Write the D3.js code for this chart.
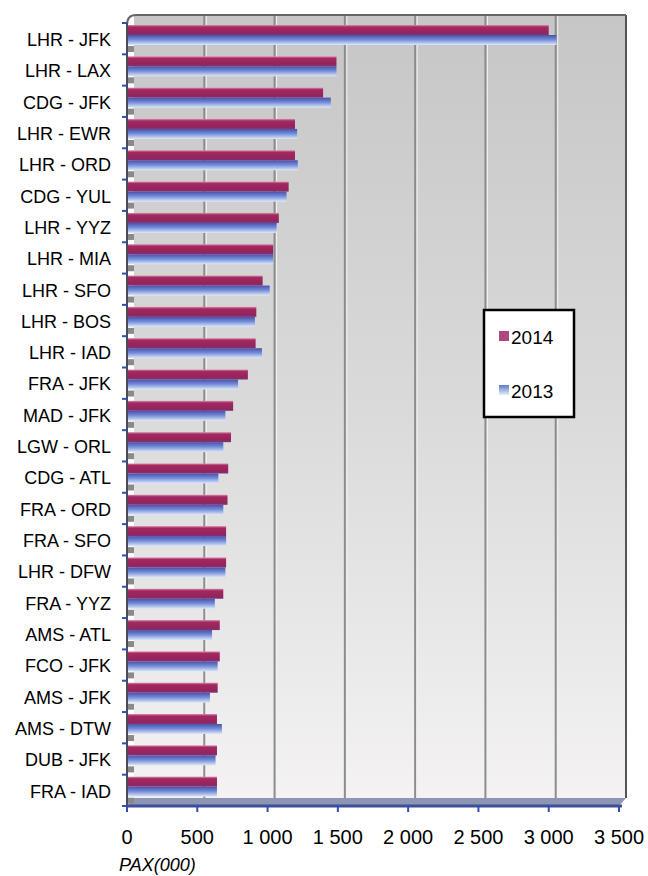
<!DOCTYPE html>
<html>
<head>
<meta charset="utf-8">
<script src="https://cdn.jsdelivr.net/npm/d3@7"></script>
<style>
body { margin:0; background:#fff; }
text { font-family: "Liberation Sans", Arial, sans-serif; }
</style>
</head>
<body>
<div id="chart"></div>
<script>
var routes = ["LHR - JFK","LHR - LAX","CDG - JFK","LHR - EWR","LHR - ORD","CDG - YUL","LHR - YYZ","LHR - MIA","LHR - SFO","LHR - BOS","LHR - IAD","FRA - JFK","MAD - JFK","LGW - ORL","CDG - ATL","FRA - ORD","FRA - SFO","LHR - DFW","FRA - YYZ","AMS - ATL","FCO - JFK","AMS - JFK","AMS - DTW","DUB - JFK","FRA - IAD"];
var pax2014 = [3000,1490,1395,1195,1195,1150,1080,1040,965,920,915,860,755,740,720,715,705,705,685,660,660,645,640,640,640];
var pax2013 = [3055,1490,1450,1210,1215,1135,1065,1040,1015,910,960,790,700,685,650,685,705,700,625,605,645,590,675,630,640];
var xTicks = [0,500,1000,1500,2000,2500,3000,3500];
var seriesNames = ["2014","2013"];

var W = 648, H = 876;
var dx = 7, dy = -8; // depth of the 3D wall

var svg = d3.select("#chart").append("svg")
    .attr("width", W)
    .attr("height", H);

var x = d3.scaleLinear().domain([0,3500]).range([127,619]);
var y = d3.scaleBand().domain(routes).range([23,806]);

var fr = d3.formatLocale({decimal:",", thousands:" ", grouping:[3], currency:["",""]});
var fmt = fr.format(",d");

var defs = svg.append("defs");
var wall = defs.append("linearGradient").attr("id","wall").attr("x1",0).attr("y1",0).attr("x2",0).attr("y2",1);
wall.append("stop").attr("offset","0%").attr("stop-color","#c6c6c6");
wall.append("stop").attr("offset","50%").attr("stop-color","#dadada");
wall.append("stop").attr("offset","100%").attr("stop-color","#f4f2f2");

var g14 = defs.append("linearGradient").attr("id","g14").attr("x1",0).attr("y1",0).attr("x2",0).attr("y2",1);
g14.append("stop").attr("offset","0%").attr("stop-color","#d98aae");
g14.append("stop").attr("offset","20%").attr("stop-color","#a3295f");
g14.append("stop").attr("offset","75%").attr("stop-color","#94245c");
g14.append("stop").attr("offset","100%").attr("stop-color","#7a3478");

var g13 = defs.append("linearGradient").attr("id","g13").attr("x1",0).attr("y1",0).attr("x2",0).attr("y2",1);
g13.append("stop").attr("offset","0%").attr("stop-color","#4d4fa6");
g13.append("stop").attr("offset","45%").attr("stop-color","#6f8bd8");
g13.append("stop").attr("offset","100%").attr("stop-color","#dfe7f8");

var gl13 = defs.append("linearGradient").attr("id","gl13").attr("x1",0).attr("y1",0).attr("x2",0).attr("y2",1);
gl13.append("stop").attr("offset","0%").attr("stop-color","#5a7acb");
gl13.append("stop").attr("offset","100%").attr("stop-color","#e8eefa");

// back wall
svg.append("rect")
    .attr("x", x(0)+dx).attr("y", y.range()[0]+dy)
    .attr("width", x(3500)-x(0)).attr("height", y.range()[1]-y.range()[0])
    .attr("fill","url(#wall)");

// grid lines on the back wall
svg.selectAll(".grid").data(xTicks.slice(1)).enter().append("line")
    .attr("class","grid")
    .attr("x1", function(d){return x(d)+dx;})
    .attr("x2", function(d){return x(d)+dx;})
    .attr("y1", y.range()[0]+dy)
    .attr("y2", y.range()[1]+dy)
    .attr("stroke", function(d){return d==3500 ? "#555" : "#8c8c8c";})
    .attr("stroke-width", 2);
svg.selectAll(".gridhl").data(xTicks.slice(1,-1)).enter().append("line")
    .attr("class","gridhl")
    .attr("x1", function(d){return x(d)+dx+2;})
    .attr("x2", function(d){return x(d)+dx+2;})
    .attr("y1", y.range()[0]+dy)
    .attr("y2", y.range()[1]+dy)
    .attr("stroke", "#f2f2f2")
    .attr("stroke-width", 1);

// top edge of the wall with rounded corner
svg.append("path")
    .attr("d", "M" + x(0) + "," + (y.range()[0]+2) + " Q" + x(0) + "," + (y.range()[0]+dy) + " " + (x(0)+dx+2) + "," + (y.range()[0]+dy)
        + " L" + (x(3500)+dx) + "," + (y.range()[0]+dy))
    .attr("fill","none").attr("stroke","#666").attr("stroke-width",2);

// floor
svg.append("path")
    .attr("d", "M" + x(0) + "," + y.range()[1] + " L" + (x(0)+dx) + "," + (y.range()[1]+dy)
        + " L" + (x(3500)+dx) + "," + (y.range()[1]+dy) + " L" + x(3500) + "," + y.range()[1] + "Z")
    .attr("fill","#8d94b4");
svg.append("line")
    .attr("x1", x(0)).attr("x2", x(3500)+3)
    .attr("y1", y.range()[1]).attr("y2", y.range()[1])
    .attr("stroke","#3e4f9a").attr("stroke-width",3);

// shadows at the bar bases
svg.selectAll(".base").data(routes).enter().append("rect")
    .attr("class","base")
    .attr("x", x(0)+1).attr("width", 6)
    .attr("y", function(d){return y(d)+23;})
    .attr("height", 6)
    .attr("fill","#8a8a8a");

// bars
var bh = 10;
svg.selectAll(".b13").data(routes).enter().append("rect")
    .attr("class","b13")
    .attr("x", x(0))
    .attr("y", function(d){return y(d)+12;})
    .attr("width", function(d,i){return x(pax2013[i])-x(0);})
    .attr("height", bh)
    .attr("fill","url(#g13)");
svg.selectAll(".b14").data(routes).enter().append("rect")
    .attr("class","b14")
    .attr("x", x(0))
    .attr("y", function(d){return y(d)+2;})
    .attr("width", function(d,i){return x(pax2014[i])-x(0);})
    .attr("height", bh)
    .attr("fill","url(#g14)");

// left axis
svg.append("line")
    .attr("x1", x(0)).attr("x2", x(0))
    .attr("y1", y.range()[0]).attr("y2", y.range()[1])
    .attr("stroke","#4a4a5a").attr("stroke-width",2);
var yTickPos = routes.map(function(d){return y(d);}).concat([y.range()[1]]);
svg.selectAll(".ytick").data(yTickPos).enter().append("line")
    .attr("class","ytick")
    .attr("x1", x(0)-5).attr("x2", x(0))
    .attr("y1", function(d){return d;}).attr("y2", function(d){return d;})
    .attr("stroke","#2f4fb5").attr("stroke-width",2);

svg.selectAll(".ylab").data(routes).enter().append("text")
    .attr("class","ylab")
    .attr("x", 111)
    .attr("y", function(d){return y(d)+y.bandwidth()/2+1;})
    .attr("dy","0.35em")
    .style("text-anchor","end")
    .style("font-size","18px")
    .attr("fill","#000")
    .text(function(d){return d;});

// bottom axis ticks and labels
svg.selectAll(".xtick").data(xTicks).enter().append("line")
    .attr("class","xtick")
    .attr("x1", function(d){return x(d);}).attr("x2", function(d){return x(d);})
    .attr("y1", y.range()[1]).attr("y2", y.range()[1]+6)
    .attr("stroke","#2f4fb5").attr("stroke-width",2);
svg.selectAll(".xlab").data(xTicks).enter().append("text")
    .attr("class","xlab")
    .attr("x", function(d){return x(d);})
    .attr("y", 844)
    .style("text-anchor","middle")
    .style("font-size","20px")
    .attr("fill","#000")
    .text(function(d){return fmt(d);});

svg.append("text")
    .attr("x", 119).attr("y", 871)
    .style("font-size","18px")
    .style("font-style","italic")
    .attr("fill","#000")
    .text("PAX(000)");

// legend
var lg = svg.append("g");
lg.append("rect")
    .attr("x",484).attr("y",310).attr("width",90).attr("height",107)
    .attr("fill","#fff").attr("stroke","#000").attr("stroke-width",2.5);
var lfill = ["#b04a7c","url(#gl13)"];
var ly = [336, 390];
seriesNames.forEach(function(s,i){
    lg.append("rect").attr("x",499).attr("y",ly[i]-5).attr("width",10).attr("height",10).attr("fill",lfill[i]);
    lg.append("text").attr("x",511).attr("y",ly[i]+8)
        .style("font-size","19px").attr("fill","#000").text(s);
});
</script>
</body>
</html>
